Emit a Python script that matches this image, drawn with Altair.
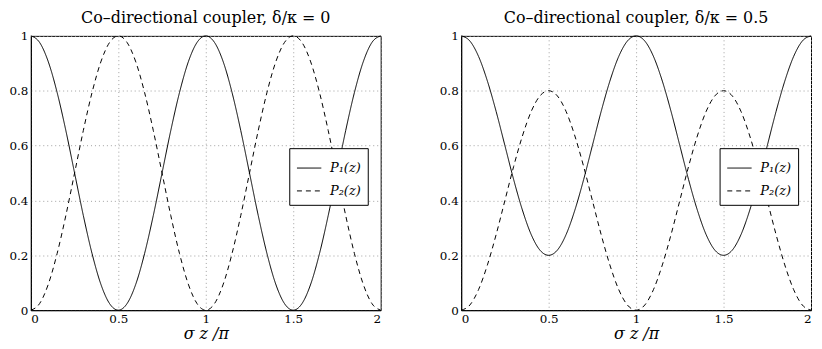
import altair as alt
import pandas as pd

# x positions (sigma z / pi) at which the curves were read
x_vals = [0.00, 0.05, 0.10, 0.15, 0.20, 0.25, 0.30, 0.35, 0.40, 0.45,
          0.50, 0.55, 0.60, 0.65, 0.70, 0.75, 0.80, 0.85, 0.90, 0.95,
          1.00, 1.05, 1.10, 1.15, 1.20, 1.25, 1.30, 1.35, 1.40, 1.45,
          1.50, 1.55, 1.60, 1.65, 1.70, 1.75, 1.80, 1.85, 1.90, 1.95, 2.00]

# Left panel, delta/kappa = 0
p1_left = [1.000, 0.976, 0.905, 0.794, 0.655, 0.500, 0.345, 0.206, 0.095, 0.024,
           0.000, 0.024, 0.095, 0.206, 0.345, 0.500, 0.655, 0.794, 0.905, 0.976,
           1.000, 0.976, 0.905, 0.794, 0.655, 0.500, 0.345, 0.206, 0.095, 0.024,
           0.000, 0.024, 0.095, 0.206, 0.345, 0.500, 0.655, 0.794, 0.905, 0.976, 1.000]
p2_left = [0.000, 0.024, 0.095, 0.206, 0.345, 0.500, 0.655, 0.794, 0.905, 0.976,
           1.000, 0.976, 0.905, 0.794, 0.655, 0.500, 0.345, 0.206, 0.095, 0.024,
           0.000, 0.024, 0.095, 0.206, 0.345, 0.500, 0.655, 0.794, 0.905, 0.976,
           1.000, 0.976, 0.905, 0.794, 0.655, 0.500, 0.345, 0.206, 0.095, 0.024, 0.000]

# Right panel, delta/kappa = 0.5
p1_right = [1.000, 0.981, 0.924, 0.835, 0.724, 0.600, 0.476, 0.365, 0.276, 0.219,
            0.200, 0.219, 0.276, 0.365, 0.476, 0.600, 0.724, 0.835, 0.924, 0.981,
            1.000, 0.981, 0.924, 0.835, 0.724, 0.600, 0.476, 0.365, 0.276, 0.219,
            0.200, 0.219, 0.276, 0.365, 0.476, 0.600, 0.724, 0.835, 0.924, 0.981, 1.000]
p2_right = [0.000, 0.019, 0.076, 0.165, 0.276, 0.400, 0.524, 0.635, 0.724, 0.781,
            0.800, 0.781, 0.724, 0.635, 0.524, 0.400, 0.276, 0.165, 0.076, 0.019,
            0.000, 0.019, 0.076, 0.165, 0.276, 0.400, 0.524, 0.635, 0.724, 0.781,
            0.800, 0.781, 0.724, 0.635, 0.524, 0.400, 0.276, 0.165, 0.076, 0.019, 0.000]

series_names = ["P\u2081(z)", "P\u2082(z)"]
titles = ["Co\u2013directional coupler,  \u03b4/\u03ba = 0",
          "Co\u2013directional coupler,  \u03b4/\u03ba = 0.5"]
x_ticks = [0, 0.5, 1, 1.5, 2]
y_ticks = [0, 0.2, 0.4, 0.6, 0.8, 1]

FONT = "DejaVu Serif"
W, H = 352, 276


def panel(p1, p2, title):
    df = pd.DataFrame({
        "x": x_vals + x_vals,
        "y": p1 + p2,
        "s": [series_names[0]] * len(x_vals) + [series_names[1]] * len(x_vals),
    })
    return alt.Chart(df, title=alt.Title(title, font=FONT, fontSize=16, color="black",
                                         fontWeight="normal", offset=4)).mark_line(
        color="black", strokeWidth=1, interpolate="monotone"
    ).encode(
        x=alt.X("x:Q", scale=alt.Scale(domain=[0, 2], nice=False),
                axis=alt.Axis(values=x_ticks, format="~g", title="\u03c3 z /\u03c0",
                              titleFontStyle="italic", titleFontSize=16,
                              titleFont=FONT, titleFontWeight="normal",
                              titleColor="black", titlePadding=2)),
        y=alt.Y("y:Q", scale=alt.Scale(domain=[0, 1], nice=False),
                axis=alt.Axis(values=y_ticks, format="~g", title=None)),
        strokeDash=alt.StrokeDash(
            "s:N",
            scale=alt.Scale(domain=series_names, range=[[1, 0], [5, 4]]),
            legend=alt.Legend(
                title=None, orient="none", legendX=260, legendY=113,
                strokeColor="black", fillColor="white", padding=7,
                symbolType="stroke", symbolSize=600, symbolStrokeWidth=1,
                symbolStrokeColor="black", labelFont=FONT, labelFontSize=13,
                labelColor="black",
                labelFontStyle="italic", rowPadding=3, labelOffset=8,
            ),
        ),
    ).properties(width=W, height=H)


chart = alt.hconcat(
    panel(p1_left, p2_left, titles[0]),
    panel(p1_right, p2_right, titles[1]),
    spacing=55,
).resolve_legend(strokeDash="independent").configure(
    padding={"left": 0, "top": 0, "right": 0, "bottom": 0}
).configure_axis(
    labelFont=FONT, labelFontSize=12, labelColor="black",
    domainColor="black", domainWidth=1,
    ticks=False, labelPadding=3,
    grid=True, gridColor="#a0a0a0", gridDash=[1, 3], gridWidth=1,
).configure_view(stroke="black", strokeWidth=1)

chart.save("out.html", embed_options={"renderer": "svg", "actions": False})
